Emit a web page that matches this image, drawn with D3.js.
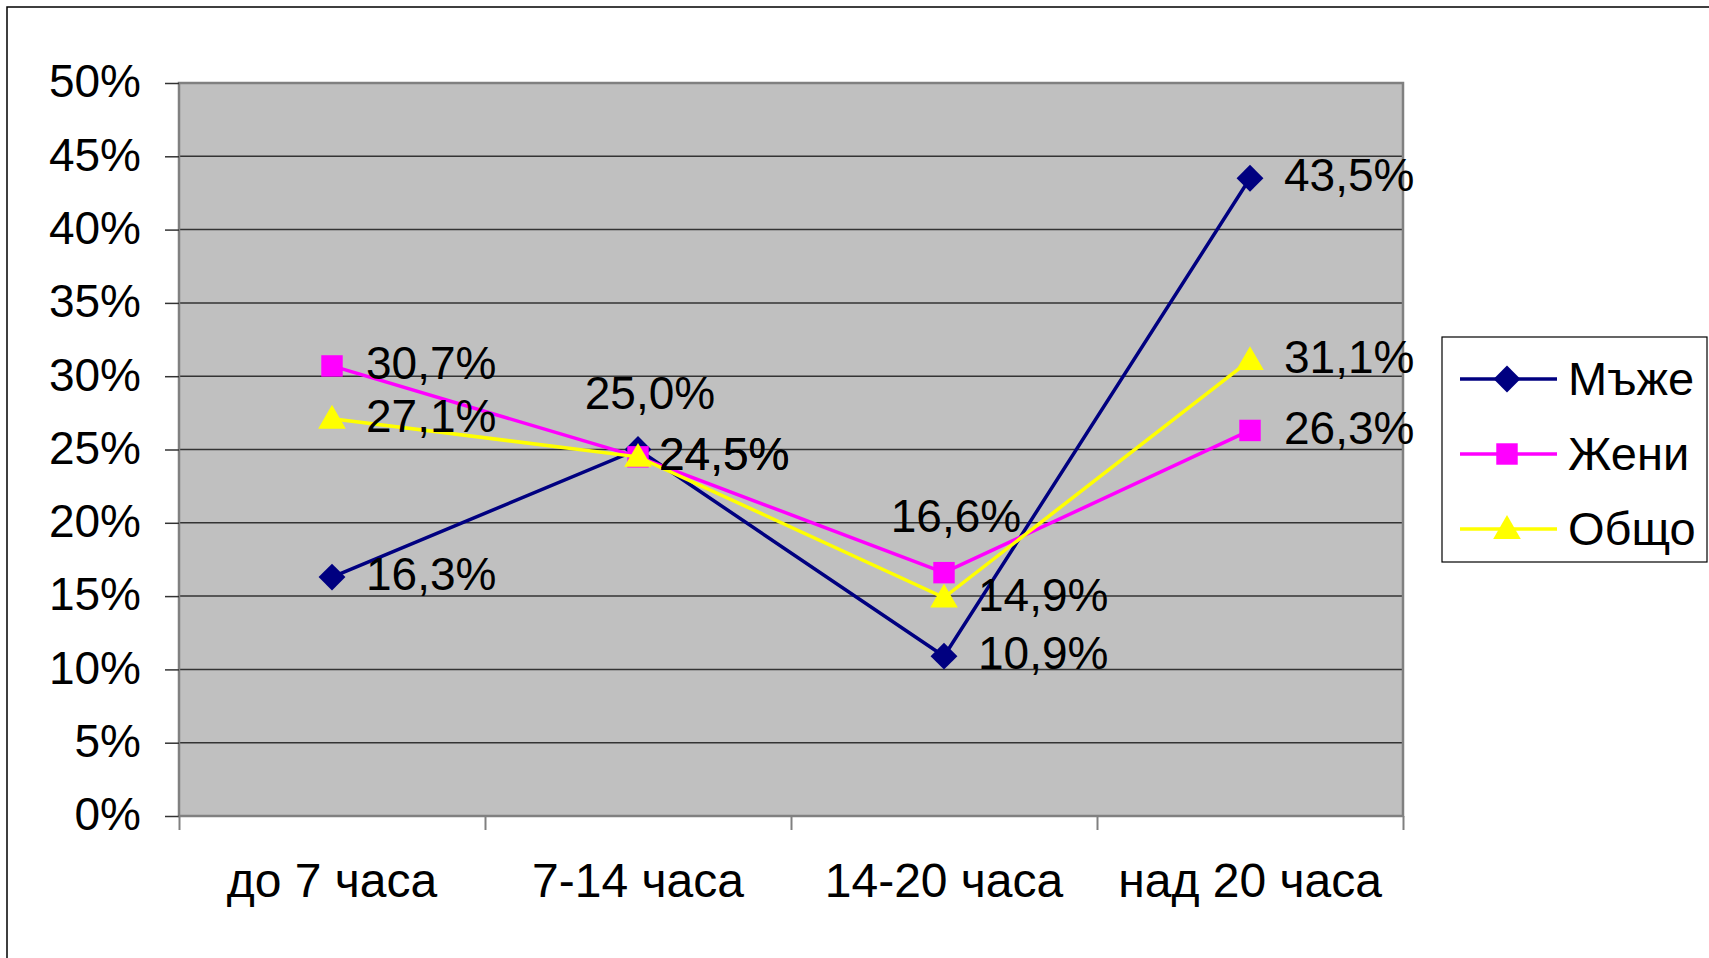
<!DOCTYPE html>
<html>
<head>
<meta charset="utf-8">
<script src="https://cdn.jsdelivr.net/npm/d3@7"></script>
<style>
  body { margin: 0; background: #fff; }
  svg text { font-family: "Liberation Sans", Arial, sans-serif; fill: #000; }
</style>
</head>
<body>
<div id="chart"></div>
<script>
var categories = ["до 7 часа", "7-14 часа", "14-20 часа", "над 20 часа"];
var seriesNames = ["Мъже", "Жени", "Общо"];
var menValues = [16.3, 25.0, 10.9, 43.5];
var womenValues = [30.7, 24.5, 16.6, 26.3];
var totalValues = [27.1, 24.5, 14.9, 31.1];
var yTicks = [0, 5, 10, 15, 20, 25, 30, 35, 40, 45, 50];

// labels that excel moved: above the point, or tucked closer to it
var labelPlace = { "Мъже|1": "above", "Жени|2": "above", "Жени|1": "close", "Общо|1": "close" };

var series = [
    { name: seriesNames[0], values: menValues, color: "#000080", shape: "diamond" },
    { name: seriesNames[1], values: womenValues, color: "#FF00FF", shape: "square" },
    { name: seriesNames[2], values: totalValues, color: "#FFFF00", shape: "triangle" }
];

var W = 1709, H = 958;
var plot = { left: 179, right: 1403, top: 83, bottom: 816 };
var fontSize = 46;

var svg = d3.select("#chart").append("svg")
    .attr("width", W)
    .attr("height", H);

// chart area border, runs off the picture on the right and bottom
svg.append("rect")
    .attr("x", 7).attr("y", 7)
    .attr("width", 1800).attr("height", 1000)
    .attr("fill", "#fff")
    .attr("stroke", "#000")
    .attr("stroke-width", 1.5);

var x = d3.scaleBand().domain(categories).range([plot.left, plot.right]);
var xEdges = d3.scaleLinear().domain([0, categories.length]).range([plot.left, plot.right]);
var y = d3.scaleLinear().domain([0, 50]).range([plot.bottom, plot.top]);

svg.append("rect")
    .attr("x", plot.left).attr("y", plot.top)
    .attr("width", plot.right - plot.left)
    .attr("height", plot.bottom - plot.top)
    .attr("fill", "#C0C0C0");

// gridlines
svg.append("g")
    .selectAll("line")
    .data(yTicks.slice(1, -1))
    .enter()
    .append("line")
    .attr("x1", plot.left).attr("x2", plot.right)
    .attr("y1", (d) => y(d)).attr("y2", (d) => y(d))
    .attr("stroke", "#333")
    .attr("stroke-width", 1.5);

svg.append("rect")
    .attr("x", plot.left).attr("y", plot.top)
    .attr("width", plot.right - plot.left)
    .attr("height", plot.bottom - plot.top)
    .attr("fill", "none")
    .attr("stroke", "#808080")
    .attr("stroke-width", 2.5);

// y axis
var yAxis = svg.append("g")
    .attr("transform", "translate(" + plot.left + ",0)")
    .call(d3.axisLeft(y)
        .tickValues(yTicks)
        .tickSize(14)
        .tickPadding(24)
        .tickFormat((d) => d + "%"));
yAxis.select(".domain").remove();
yAxis.selectAll(".tick line").attr("stroke", "#333").attr("stroke-width", 1.5);
yAxis.selectAll(".tick text")
    .attr("font-size", fontSize)
    .attr("font-family", "Liberation Sans, Arial, sans-serif")
    .attr("dy", "0.3em");

// x axis ticks on the category edges
var xTickAxis = svg.append("g")
    .attr("transform", "translate(0," + plot.bottom + ")")
    .call(d3.axisBottom(xEdges).tickValues(d3.range(categories.length + 1)).tickSize(14).tickFormat(""));
xTickAxis.select(".domain").remove();
xTickAxis.selectAll(".tick line").attr("stroke", "#808080").attr("stroke-width", 2);

var xAxis = svg.append("g")
    .attr("transform", "translate(0," + plot.bottom + ")")
    .call(d3.axisBottom(x).tickSize(0).tickPadding(47));
xAxis.select(".domain").remove();
xAxis.selectAll(".tick text")
    .attr("font-size", 48)
    .attr("font-family", "Liberation Sans, Arial, sans-serif");

function symbolPath(shape) {
    if (shape === "diamond")
        return d3.symbol().type(d3.symbolSquare).size(360)();
    if (shape === "square")
        return d3.symbol().type(d3.symbolSquare).size(460)();
    return d3.symbol().type(d3.symbolTriangle).size(330)();
}

function drawMarker(g, s, cx, cy) {
    var t = "translate(" + cx + "," + cy + ")";
    if (s.shape === "diamond") t += " rotate(45)";
    if (s.shape === "triangle") t += " translate(0,2)";
    g.append("path")
        .attr("d", symbolPath(s.shape))
        .attr("transform", t)
        .attr("fill", s.color);
}

var line = d3.line()
    .x((d, i) => x(categories[i]) + x.bandwidth() / 2)
    .y((d) => y(d));

series.forEach(function(s) {
    var g = svg.append("g");
    g.append("path")
        .datum(s.values)
        .attr("d", line)
        .attr("fill", "none")
        .attr("stroke", s.color)
        .attr("stroke-width", 3.5);
    s.values.forEach(function(v, i) {
        drawMarker(g, s, x(categories[i]) + x.bandwidth() / 2, y(v));
    });
});

// data labels
series.forEach(function(s) {
    s.values.forEach(function(v, i) {
        var cx = x(categories[i]) + x.bandwidth() / 2, cy = y(v);
        var place = labelPlace[s.name + "|" + i] || "right";
        var lx = cx + 34, ly = cy - 3, anchor = "start";
        if (place === "above") { lx = cx + 12; ly = cy - 57; anchor = "middle"; }
        if (place === "close") lx = cx + 21;
        svg.append("text")
            .attr("x", lx)
            .attr("y", ly)
            .attr("dy", "0.35em")
            .attr("text-anchor", anchor)
            .attr("font-size", fontSize)
            .text(v.toFixed(1).replace(".", ",") + "%");
    });
});

// legend
var lg = svg.append("g");
lg.append("rect")
    .attr("x", 1442).attr("y", 337)
    .attr("width", 265).attr("height", 225)
    .attr("fill", "#fff")
    .attr("stroke", "#000")
    .attr("stroke-width", 1.2);
series.forEach(function(s, i) {
    var ly = 379 + i * 75;
    lg.append("line")
        .attr("x1", 1460).attr("x2", 1557)
        .attr("y1", ly).attr("y2", ly)
        .attr("stroke", s.color)
        .attr("stroke-width", 3.5);
    drawMarker(lg, s, 1507, ly);
    lg.append("text")
        .attr("x", 1568).attr("y", ly)
        .attr("dy", "0.35em")
        .attr("font-size", 47)
        .text(s.name);
});
</script>
</body>
</html>
